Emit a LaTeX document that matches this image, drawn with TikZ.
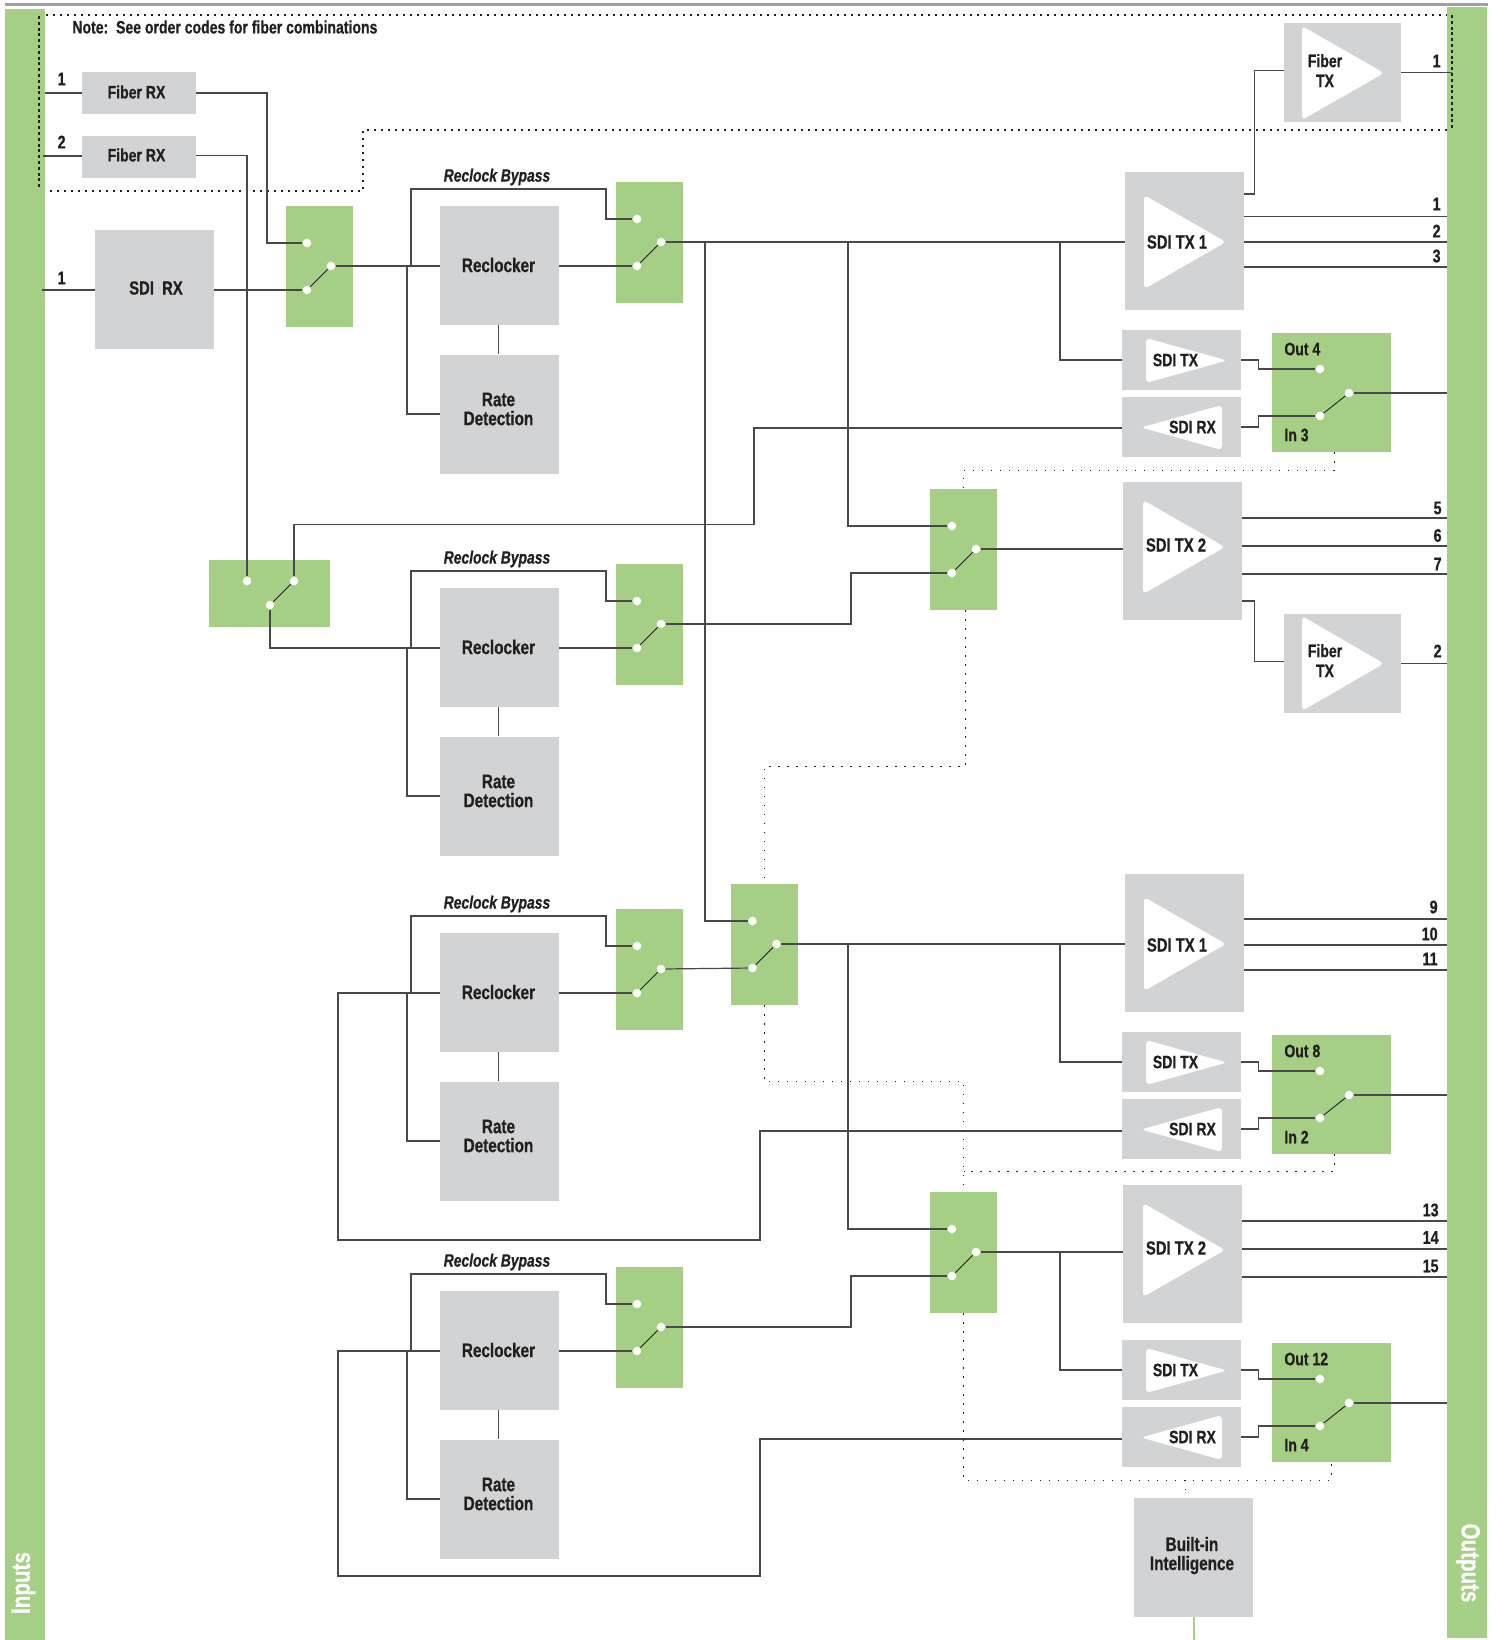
\documentclass[tikz,border=0pt]{standalone}
\usepackage{fontspec}
\setmainfont{Liberation Sans}[FakeStretch=0.78,FakeBold=0.6]
\usetikzlibrary{calc}
\definecolor{grn}{HTML}{A5CF85}
\definecolor{gry}{HTML}{D1D3D4}
\definecolor{ink}{HTML}{231F20}
\definecolor{wirec}{HTML}{48484A}
\tikzset{
  graybox/.style={fill=gry,draw=none,rectangle,inner sep=0pt,text=ink},
  greenbox/.style={fill=grn,draw=none,rectangle,inner sep=0pt},
  wire/.style={draw=wirec,line width=0.6pt},
  armline/.style={draw=ink,line width=0.45pt},
  pin/.style={circle,fill=white,draw=none,minimum size=4.3pt,inner sep=0pt},
  lab/.style={inner sep=0pt,text=ink,align=center,font=\bfseries\fontsize{9.8}{9.5}\selectfont},
  sublab/.style={lab,font=\bfseries\fontsize{9}{10}\selectfont},
  txlab/.style={lab,font=\bfseries\fontsize{9.5}{9.5}\selectfont},
  bypasslab/.style={lab,font=\bfseries\itshape\fontsize{8.9}{9}\selectfont},
  numlab/.style={lab,anchor=east,font=\bfseries\fontsize{9.2}{9}\selectfont},
  barlab/.style={inner sep=0pt,text=white,font=\bfseries\fontsize{13.2}{13}\selectfont},
  bigdot/.style={draw=ink,line width=1pt,dash pattern=on 0.9pt off 2.6pt},
  sidedot/.style={draw=ink,line width=0.8pt,dash pattern=on 1.5pt off 1.4pt},
  ctrl/.style={draw=ink,line width=0.5pt,dash pattern=on 0.6pt off 3.9pt},
  tri/.style={fill=white,draw=none,rounded corners=2pt},
}
\newcommand{\gbox}[5]{\node[graybox,minimum width={((#4)-(#2))*0.5pt},minimum height={((#5)-(#3))*0.5pt}] (#1) at ({((#2)+(#4))/2},{((#3)+(#5))/2}) {};}
\newcommand{\grnbox}[5]{\node[greenbox,minimum width={((#4)-(#2))*0.5pt},minimum height={((#5)-(#3))*0.5pt}] (#1) at ({((#2)+(#4))/2},{((#3)+(#5))/2}) {};}
\newcommand{\rtri}[4]{\path[tri] (#1,#2) -- (#3,{((#2)+(#4))/2}) -- (#1,#4) -- cycle;}
\newcommand{\ltri}[4]{\path[tri] (#3,#2) -- (#1,{((#2)+(#4))/2}) -- (#3,#4) -- cycle;}
\newcommand{\txt}[4]{\node[lab] (#1) at (#2,#3) {#4};}
\newcommand{\txb}[4]{\node[txlab] (#1) at (#2,#3) {#4};}
\newcommand{\pn}[3]{\node[pin] (#1) at (#2,#3) {};}
% switch: name x1 y1 x2 y2, a, b, p dots
\newcommand{\vsw}[5]{%
  \grnbox{#1}{#2}{#3}{#4}{#5}%
  \pn{#1a}{#2+22}{#3+37}\pn{#1b}{#2+22}{#3+84}\pn{#1p}{#2+46}{#3+60}%
  \draw[armline] (#1b) -- (#1p);}
% reclock block: id, R
\newcommand{\rcblock}[2]{%
  \gbox{rc#1}{440}{#2-1}{559}{#2+118}%
  \gbox{rr#1}{440}{#2+148}{559}{#2+267}%
  \txt{rct#1}{498.5}{#2+58.5}{Reclocker}%
  \txt{rrt#1}{498.5}{#2+202.5}{Rate\\Detection}%
  \node[bypasslab] (bp#1) at (497,#2-29.5) {Reclock Bypass};%
  \grnbox{w#1}{616}{#2-24.5}{683}{#2+96.5}%
  \pn{w#1a}{637}{#2+12.5}\pn{w#1b}{637}{#2+59.5}\pn{w#1p}{661}{#2+35.5}%
  \draw[armline] (w#1b) -- (w#1p);%
  \draw[wire] ([xshift=-0.5pt]rc#1.south) -- ([xshift=-0.5pt]rr#1.north);%
  \draw[wire] (w#1b -| rc#1.east) -- (w#1b);%
  \coordinate (jb#1) at (411,#2+59.5);%
  \coordinate (jr#1) at (407,#2+59.5);%
  \draw[wire] (jb#1) |- (606,#2-17.5) |- (w#1a);%
  \draw[wire] (jr#1) |- (rr#1.west);}
% output line: name, source box, y, label, label x, label y
\newcommand{\outl}[6]{%
  \coordinate (#1) at (1447,#3);%
  \draw[wire] (#1 -| #2.east) -- (#1);%
  \node[numlab] (#1t) at (#5,#6) {#4};}
% SDI TX/RX pair with output selector: id, dy, out label, in label
\newcommand{\txrx}[4]{%
  \gbox{tb#1}{1122}{330+#2}{1241}{390+#2}%
  \gbox{rb#1}{1122}{397+#2}{1241}{457+#2}%
  \rtri{1146}{338+#2}{1227}{383+#2}%
  \ltri{1141}{405+#2}{1222}{450+#2}%
  \node[sublab] (tbt#1) at (1175.5,360+#2) {SDI TX};%
  \node[sublab] (rbt#1) at (1192.5,427+#2) {SDI RX};%
  \grnbox{os#1}{1272}{333+#2}{1391}{452+#2}%
  \pn{os#1a}{1320}{369+#2}\pn{os#1b}{1320}{416+#2}\pn{os#1p}{1349}{393+#2}%
  \draw[armline] (os#1b) -- (os#1p);%
  \node[sublab,anchor=west] (ost#1) at (1284,349+#2) {#3};%
  \node[sublab,anchor=west] (ist#1) at (1284,435+#2) {#4};%
  \draw[wire] (tb#1.east) -- ++(17,0) |- (os#1a);%
  \draw[wire] (rb#1.east) -- ++(17,0) |- (os#1b);%
  \coordinate (oo#1) at (1447,393+#2);%
  \draw[wire] (os#1p) -- (oo#1);}
\begin{document}
\begin{tikzpicture}[x=0.5pt,y=-0.5pt]
\useasboundingbox (0,0) rectangle (1498,1640);
\fill[white] (0,0) rectangle (1498,1640);
\draw[draw=gray!75,line width=1.2pt] (5,4.3) -- (1488,4.3);
\fill[grn] (5,9) rectangle (45,1640);
\fill[grn] (1447,7) rectangle (1487,1638);
\node[barlab,rotate=90] (inlab) at (23.5,1583) {Inputs};
\node[barlab,rotate=-90] (outlab) at (1468,1563) {Outputs};
% fiber option frame
\draw[bigdot] (46,15) -- (1447,15);
\draw[bigdot] (50,191) -- (363,191) -- (363,130) -- (1447,130);
\draw[sidedot] (39,16) -- (39,188);
\draw[sidedot] (1452,15) -- (1452,130);
\node[sublab,anchor=west] (note) at (72,27) {Note:\ \ See order codes for fiber combinations};
% inputs
\gbox{fr1}{82}{72}{196}{114}
\gbox{fr2}{82}{136}{196}{178}
\gbox{srx}{95}{229.5}{214}{348.5}
\node[sublab] (fr1t) at (136.5,92) {Fiber RX};
\node[sublab] (fr2t) at (136.5,155) {Fiber RX};
\txb{srxt}{156}{288}{SDI\ \ RX}
\node[numlab] (n1) at (66,79) {1};
\node[numlab] (n2) at (66,142) {2};
\node[numlab] (n3) at (66,278) {1};
\coordinate (in1) at (45,93);
\coordinate (in2) at (43,156);
\coordinate (in3) at (42,290);
\draw[wire] (in1) -- (fr1.west);
\draw[wire] (in2) -- (in2 -| fr2.west);
\draw[wire] (in3) -- (in3 -| srx.west);
% input switch
\grnbox{isw}{286}{206}{353}{327}
\pn{iswa}{307}{243}\pn{iswb}{307}{290}\pn{iswp}{331}{266}
\draw[armline] (iswb) -- (iswp);
% horizontal switch
\grnbox{hsw}{209}{560}{330}{627}
\pn{hswa}{247}{581}\pn{hswb}{294}{581}\pn{hswp}{270}{605}
\draw[armline] (hswp) -- (hswb);
% reclock blocks
\rcblock{A}{206.5}
\rcblock{B}{588.5}
\rcblock{C}{933.5}
\rcblock{D}{1291.5}
% SDI TX blocks
\gbox{t1}{1125}{172}{1244}{310}
\rtri{1144}{195}{1226}{289}
\txb{t1t}{1177}{242}{SDI TX 1}
\gbox{t2}{1123}{482}{1242}{620}
\rtri{1143}{500}{1225}{594}
\txb{t2t}{1176}{545}{SDI TX 2}
\gbox{t3}{1125}{874}{1244}{1012}
\rtri{1144}{897}{1226}{991}
\txb{t3t}{1177}{945}{SDI TX 1}
\gbox{t4}{1123}{1185}{1242}{1323}
\rtri{1143}{1203}{1225}{1297}
\txb{t4t}{1176}{1248}{SDI TX 2}
% fiber TX
\gbox{ftx1}{1284}{23}{1401}{122}
\rtri{1302}{26}{1384}{120}
\node[sublab] (ftx1t) at (1325,70.6) {Fiber\\TX};
\gbox{ftx2}{1284}{614}{1401}{713}
\rtri{1302}{616}{1384}{711}
\node[sublab] (ftx2t) at (1325,660.6) {Fiber\\TX};
% TX/RX pairs
\txrx{1}{0}{Out 4}{In 3}
\txrx{2}{702}{Out 8}{In 2}
\txrx{3}{1010}{Out 12}{In 4}
% main switches
\vsw{s2}{930}{489}{997}{610}
\vsw{s3}{730.5}{884}{798}{1005}
\vsw{s4}{930}{1192}{997}{1313}
% built-in intelligence
\gbox{bi}{1134}{1498}{1253}{1617}
\txt{bit}{1192}{1555.5}{Built-in\\Intelligence}
\draw[draw=grn,line width=1pt] (bi.south) -- ++(0,23);
% outputs
\outl{o1}{t1}{216.5}{1}{1441}{204}
\outl{o2}{t1}{242}{2}{1441}{231}
\outl{o3}{t1}{267}{3}{1441}{256}
\outl{o5}{t2}{518}{5}{1442}{508}
\outl{o6}{t2}{546}{6}{1442}{535.5}
\outl{o7}{t2}{574}{7}{1442}{564}
\outl{o9}{t3}{919}{9}{1438}{907}
\outl{o10}{t3}{945}{10}{1438}{934}
\outl{o11}{t3}{970}{11}{1438}{959}
\outl{o13}{t4}{1221}{13}{1439}{1210}
\outl{o14}{t4}{1249}{14}{1439}{1237.5}
\outl{o15}{t4}{1277}{15}{1439}{1266}
\coordinate (of1) at (1452,72.5);
\coordinate (of2) at (1447,663.5);
\draw[wire] (ftx1.east) -- (of1);
\draw[wire] (ftx2.east) -- (of2);
\node[numlab] (of1t) at (1441,61) {1};
\node[numlab] (of2t) at (1442,651) {2};
% wiring, inputs side
\draw[wire] (fr1.east) -- ++(70.5,0) |- (iswa);
\draw[wire] ([yshift=0.75pt]fr2.east) -| (hswa);
\draw[wire] (iswb -| srx.east) -- (iswb);
\draw[wire] (iswp) -- (iswp -| rcA.west);
\draw[wire] (hswp) |- (jbB -| rcB.west);
% first channel
\coordinate (j1) at (705,242);
\coordinate (j2) at (848,242);
\coordinate (j3) at (1060,242);
\draw[wire] (wAp) -- (wAp -| t1.west);
\draw[wire] (j1) |- (s3a);
\draw[wire] (j2) |- (s2a);
\draw[wire] (j3) |- (tb1.west);
\draw[wire] ([yshift=23.5pt]t1.east) -- ++(10,0) |- ([yshift=1pt]ftx1.west);
\draw[wire] ([yshift=-0.5pt]rb1.west) -| (754,524.5) -| (hswb);
% second channel
\draw[wire] (wBp) -- ++(190,0) |- (s2b);
\draw[wire] (s2p) -- (s2p -| t2.west);
\draw[wire] ([yshift=-25pt]t2.east) -- ++(12,0) |- ([yshift=1pt]ftx2.west);
% third channel
\draw[wire] (wCp) -- (s3b);
\draw[wire] (s3p) -- (s3p -| t3.west);
\coordinate (j4) at (848,945);
\coordinate (j5) at (1060,945);
\draw[wire] (j4) |- (s4a);
\draw[wire] (j5) |- (tb2.west);
\draw[wire] ([yshift=-1pt]rb2.west) -| (760,1240) -| (338,993) -- (jbC -| rcC.west);
% fourth channel
\draw[wire] (wDp) -- ++(190,0) |- (s4b);
\draw[wire] (s4p) -- (s4p -| t4.west);
\coordinate (j6) at (1060,1252);
\draw[wire] (j6) |- (tb3.west);
\draw[wire] ([yshift=-1pt]rb3.west) -| (760,1576) -| (338,1351) -- (jbD -| rcD.west);
% control (dotted) lines
\draw[ctrl] ([xshift=1.25pt]os1.south) -- ++(0,18) -| (s2.north);
\draw[ctrl] ([xshift=1pt]s2.south) -- ++(0,156) -| (s3.north);
\coordinate (dj2) at (s4.north |- 0,1171);
\draw[ctrl] (s3.south) -- ++(0,76) -| (s4.north);
\draw[ctrl] ([xshift=1.25pt]os2.south) |- (dj2);
\coordinate (dj3) at (os3.south |- 0,1480);
\coordinate (dj4) at (1185,1480);
\draw[ctrl] (s4.south) |- (dj3) -- (os3.south);
\draw[ctrl] (dj4) -- (dj4 |- bi.north);
\end{tikzpicture}
\end{document}
